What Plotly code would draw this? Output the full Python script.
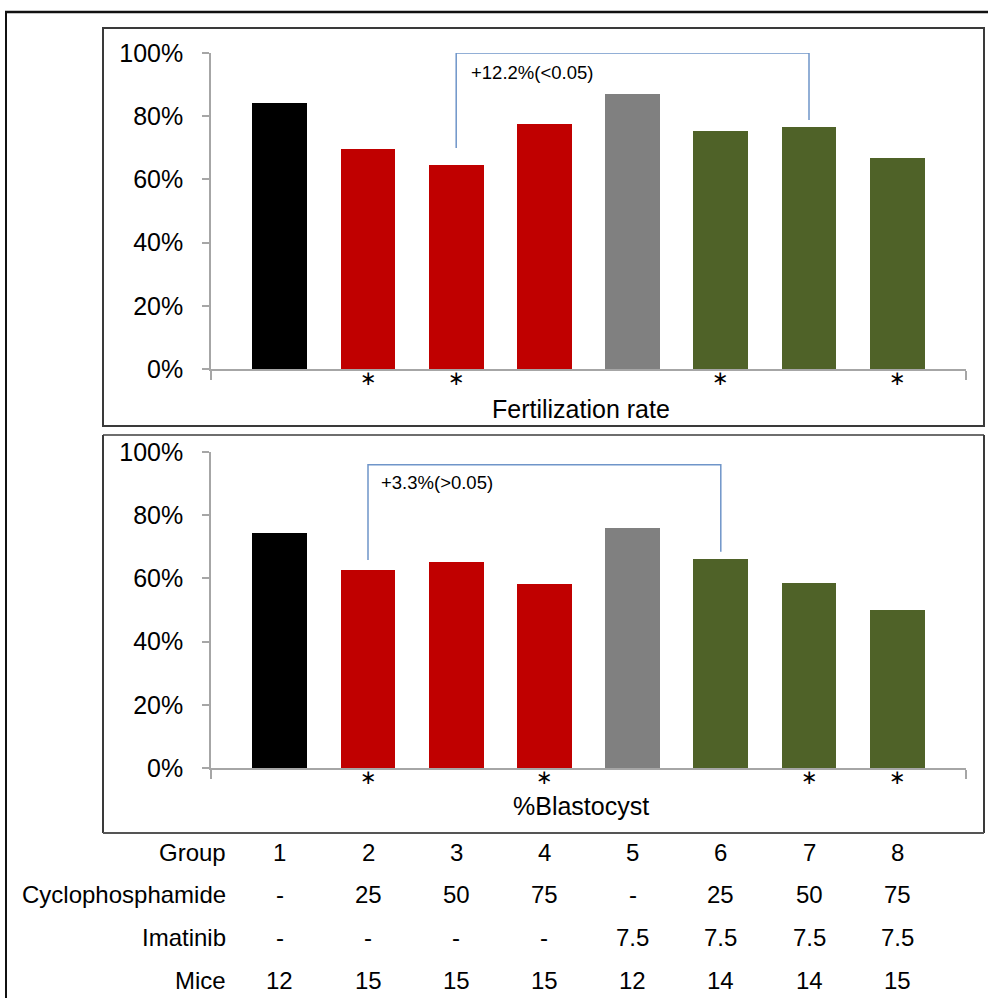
import plotly.graph_objects as go

# ---------------- data ----------------
groups = [1, 2, 3, 4, 5, 6, 7, 8]
fert_rate = [84.2, 69.6, 64.6, 77.5, 87.0, 75.3, 76.6, 66.8]
blastocyst = [74.4, 62.7, 65.2, 58.2, 75.9, 66.1, 58.5, 50.0]
bar_colors = ["#000000", "#C00000", "#C00000", "#C00000", "#808080", "#4F6228", "#4F6228", "#4F6228"]
fert_sig = [2, 3, 6, 8]
blast_sig = [2, 4, 7, 8]
y_ticks = [0, 20, 40, 60, 80, 100]
y_ticktext = ["0%", "20%", "40%", "60%", "80%", "100%"]
fert_compare = (3, 7, "+12.2%(<0.05)")
blast_compare = (2, 6, "+3.3%(>0.05)")
row_labels = ["Group", "Cyclophosphamide", "Imatinib", "Mice"]
cyclophosphamide = ["-", "25", "50", "75", "-", "25", "50", "75"]
imatinib = ["-", "-", "-", "-", "7.5", "7.5", "7.5", "7.5"]
mice = ["12", "15", "15", "15", "12", "14", "14", "15"]
panel_titles = ["Fertilization rate", "%Blastocyst"]
sig_mark = "\u2217"

W, H = 988, 998
FONT = "Liberation Sans, Arial, sans-serif"


def px(x):
    return x / W


def py(y):
    return 1 - y / H


fig = go.Figure()

fig.add_trace(go.Bar(x=groups, y=fert_rate, marker=dict(color=bar_colors, line=dict(width=0)),
                     width=0.62, xaxis="x", yaxis="y", showlegend=False))
fig.add_trace(go.Bar(x=groups, y=blastocyst, marker=dict(color=bar_colors, line=dict(width=0)),
                     width=0.62, xaxis="x2", yaxis="y2", showlegend=False))

# comparison brackets
bracket_color = "#6F95C9"
a, b, _ = fert_compare
fig.add_trace(go.Scatter(x=[a, a, b, b], y=[fert_rate[a - 1] + 5.3, 100, 100, fert_rate[b - 1] + 2.2],
                         mode="lines", line=dict(color=bracket_color, width=1.5),
                         xaxis="x", yaxis="y", showlegend=False, hoverinfo="skip", cliponaxis=False))
a, b, _ = blast_compare
fig.add_trace(go.Scatter(x=[a, a, b, b], y=[blastocyst[a - 1] + 3.1, 96, 96, blastocyst[b - 1] + 2.3],
                         mode="lines", line=dict(color=bracket_color, width=1.5),
                         xaxis="x2", yaxis="y2", showlegend=False, hoverinfo="skip", cliponaxis=False))

xr = [0.22, 8.78]
xdom = [px(211), px(966)]
axis_common = dict(range=xr, domain=xdom, showline=True, linecolor="#A6A6A6", linewidth=1.5,
                   ticks="outside", ticklen=9, tickcolor="#A6A6A6", tickwidth=1.5,
                   tickvals=xr, showticklabels=False, showgrid=False, zeroline=False,
                   fixedrange=True, automargin=False)
yaxis_common = dict(range=[0, 100], showline=True, linecolor="#A6A6A6", linewidth=1.5,
                    ticks="outside", ticklen=7, tickcolor="#A6A6A6", tickwidth=1.5,
                    tickvals=y_ticks, ticktext=y_ticktext, showgrid=False, zeroline=False,
                    tickfont=dict(family=FONT, size=25, color="#000000"), ticklabelstandoff=14,
                    fixedrange=True, automargin=False)

fig.update_layout(
    template="none",
    width=W, height=H, margin=dict(l=0, r=0, t=0, b=0, pad=0, autoexpand=False),
    paper_bgcolor="white", plot_bgcolor="white", bargap=0, showlegend=False,
    xaxis=dict(**axis_common, anchor="y"),
    yaxis=dict(**yaxis_common, domain=[py(369), py(53)], anchor="x"),
    xaxis2=dict(**axis_common, anchor="y2"),
    yaxis2=dict(**yaxis_common, domain=[py(768), py(452)], anchor="x2"),
)

ann = []
# comparison labels
ann.append(dict(x=fert_compare[0] + 0.14, y=93.7, xref="x", yref="y", text=fert_compare[2],
                showarrow=False, xanchor="left", yanchor="middle",
                font=dict(family=FONT, size=18.5, color="#000000")))
ann.append(dict(x=blast_compare[0] + 0.12, y=90.3, xref="x2", yref="y2", text=blast_compare[2],
                showarrow=False, xanchor="left", yanchor="middle",
                font=dict(family=FONT, size=18.5, color="#000000")))
# significance asterisks (centred glyph keeps its text box compact)
STAR_FONT = dict(family="DejaVu Sans", size=20, color="#000000")
for g in fert_sig:
    ann.append(dict(x=g, y=-0.029, xref="x", yref="y domain", text=sig_mark, showarrow=False,
                    xanchor="center", yanchor="middle", font=STAR_FONT))
for g in blast_sig:
    ann.append(dict(x=g, y=-0.029, xref="x2", yref="y2 domain", text=sig_mark, showarrow=False,
                    xanchor="center", yanchor="middle", font=STAR_FONT))
# panel titles
for t, yy in zip(panel_titles, [409, 806]):
    ann.append(dict(x=px(581), y=py(yy), xref="paper", yref="paper", text=t, showarrow=False,
                    xanchor="center", yanchor="middle", font=dict(family=FONT, size=25, color="#000000")))
# table
row_y = [852, 894, 937, 980]
rows = [[str(g) for g in groups], cyclophosphamide, imatinib, mice]
for lab, yy, vals in zip(row_labels, row_y, rows):
    ann.append(dict(x=px(228), y=py(yy), xref="paper", yref="paper", text=lab, showarrow=False,
                    xanchor="right", yanchor="middle", font=dict(family=FONT, size=24, color="#000000")))
    for g, v in zip(groups, vals):
        ann.append(dict(x=g, y=py(yy), xref="x2", yref="paper", text=v, showarrow=False,
                        xanchor="center", yanchor="middle", font=dict(family=FONT, size=24, color="#000000")))
fig.update_layout(annotations=ann)

# frame lines
dark = "#3A3A3A"
shapes = [
    dict(type="line", xref="paper", yref="paper", x0=px(5), x1=1, y0=py(12), y1=py(12),
         line=dict(color="#111111", width=2.5)),
    dict(type="line", xref="paper", yref="paper", x0=px(6), x1=px(6), y0=py(12), y1=0,
         line=dict(color="#111111", width=2)),
    dict(type="rect", xref="paper", yref="paper", x0=px(103), x1=px(984), y0=py(426), y1=py(28),
         line=dict(color=dark, width=2)),
    dict(type="line", xref="paper", yref="paper", x0=px(103), x1=px(984), y0=py(435), y1=py(435),
         line=dict(color="#6E6E6E", width=2)),
    dict(type="line", xref="paper", yref="paper", x0=px(103), x1=px(103), y0=py(435), y1=py(833),
         line=dict(color=dark, width=2)),
    dict(type="line", xref="paper", yref="paper", x0=px(984), x1=px(984), y0=py(435), y1=py(833),
         line=dict(color=dark, width=2)),
    dict(type="line", xref="paper", yref="paper", x0=px(103), x1=px(984), y0=py(833), y1=py(833),
         line=dict(color="#555555", width=2)),
]
fig.update_layout(shapes=shapes)

fig.write_html("out.html")
